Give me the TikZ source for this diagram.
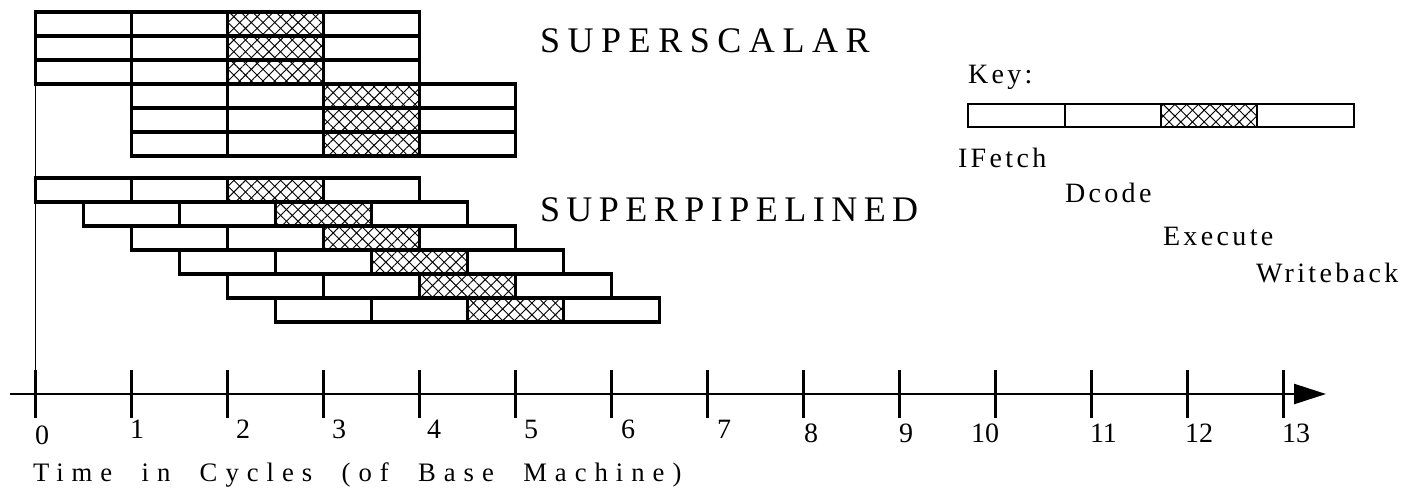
\documentclass[tikz,border=0pt]{standalone}
\usepackage{fontspec}
\setmainfont{Liberation Serif}
\newfontfamily\bigspacedA[LetterSpace=21]{Liberation Serif}
\newfontfamily\bigspacedB[LetterSpace=18]{Liberation Serif}
\newfontfamily\keyspaced[LetterSpace=12]{Liberation Serif}
\newfontfamily\axisspaced[LetterSpace=30,WordSpace=2]{Liberation Serif}
\usetikzlibrary{arrows.meta,patterns.meta}
\newcommand\numsize{\fontsize{21}{21}\selectfont}
\tikzset{
  stage/.style={line width=2.3pt},
  keybox/.style={line width=1.7pt},
  hatchne/.style={pattern={Lines[angle=45,distance=6.2pt,line width=0.7pt]}},
  hatchnw/.style={pattern={Lines[angle=-45,distance=6.2pt,line width=0.7pt]}},
  tickmark/.style={line width=2.5pt},
  baseline/.style={line width=1.2pt},
  axisline/.style={line width=1.9pt,-{Triangle[length=24pt,width=15pt]}},
  lbl/.style={anchor=base west,inner sep=0pt,outer sep=0pt},
  titlefontA/.style={font=\bigspacedA\fontsize{27}{27}\selectfont},
  titlefontB/.style={font=\bigspacedB\fontsize{27}{27}\selectfont},
  keyfont/.style={font=\keyspaced\fontsize{21}{21}\selectfont},
  axisfont/.style={font=\axisspaced\fontsize{20}{20}\selectfont},
  numfont/.style={font=\numsize},
}
% one instruction: four stages, start time #1 (cycles), top edge #2 (px)
\newcommand\piperow[2]{%
  \pgfmathsetmacro\xa{35.5+96*(#1)}%
  \pgfmathsetmacro\xb{\xa+96}%
  \pgfmathsetmacro\xc{\xa+192}%
  \pgfmathsetmacro\xd{\xa+288}%
  \pgfmathsetmacro\xe{\xa+384}%
  \pgfmathsetmacro\ya{#2}%
  \pgfmathsetmacro\yb{#2+24}%
  \fill[hatchne] (\xc,\ya) rectangle (\xd,\yb);
  \fill[hatchnw] (\xc,\ya) rectangle (\xd,\yb);
  \draw[stage] (\xa,\ya) rectangle (\xe,\yb)
    (\xb,\ya) -- (\xb,\yb) (\xc,\ya) -- (\xc,\yb) (\xd,\ya) -- (\xd,\yb);
}
\begin{document}
\begin{tikzpicture}[x=0.75pt,y=-0.75pt]
\fill[white] (0,0) rectangle (1408,496);
\useasboundingbox (0,0) rectangle (1408,496);

% left time-zero line
\draw[baseline] (35.5,12) -- (35.5,370);

% superscalar rows
\foreach \r/\t in {0/0,1/0,2/0,3/1,4/1,5/1}{
  \pgfmathsetmacro\ytop{12+24*\r}
  \piperow{\t}{\ytop}
}
% superpipelined rows
\foreach \r in {0,...,5}{
  \pgfmathsetmacro\ytop{178+24*\r}
  \piperow{0.5*\r}{\ytop}
}

% key box
\fill[hatchne] (1161,104) rectangle (1257,127);
\fill[hatchnw] (1161,104) rectangle (1257,127);
\draw[keybox] (968,104) rectangle (1354,127)
  (1065,104) -- (1065,127) (1161,104) -- (1161,127) (1257,104) -- (1257,127);

% axis
\coordinate (ax0) at (10,394);
\coordinate (ax1) at (1326,394);
\draw[axisline] (ax0) -- (ax1);
\foreach \t in {0,...,13}{
  \draw[tickmark] ({35.5+96*\t},370) -- ({35.5+96*\t},418);
}
\foreach \n/\x/\y in {0/35/444,1/130/438,2/236/438,3/332/438,4/427/438,5/524/438,6/621/438,7/717/438,8/804/442,9/899/442,10/971/442,11/1090/442,12/1185/442,13/1282/442}{
  \node[lbl,numfont] (n\n) at (\x,\y) {\n};
}

% texts
\node[lbl,titlefontA] (superscalar) at (540,52) {SUPERSCALAR};
\node[lbl,titlefontB] (superpipe) at (540,221) {SUPERPIPELINED};
\node[lbl,keyfont] (key) at (968,83) {Key:};
\node[lbl,keyfont] (ifetch) at (958,167) {IFetch};
\node[lbl,keyfont] (dcode) at (1065,202) {Dcode};
\node[lbl,keyfont] (execute) at (1163,245) {Execute};
\node[lbl,keyfont] (writeback) at (1256,282) {Writeback};
\node[lbl,axisfont] (timelabel) at (33,481) {Time in Cycles (of Base Machine)};
\end{tikzpicture}
\end{document}
